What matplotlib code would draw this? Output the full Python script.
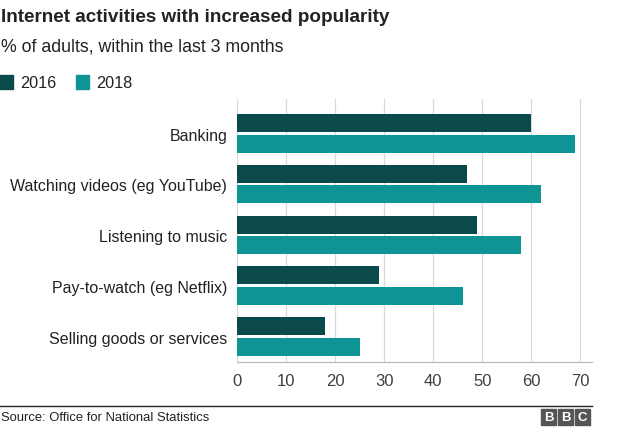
import matplotlib
matplotlib.use("Agg")
import matplotlib.pyplot as plt
import numpy as np
from matplotlib.patches import Rectangle

plt.rcParams['font.family'] = ['Liberation Sans', 'DejaVu Sans']

categories = ["Banking", "Watching videos (eg YouTube)", "Listening to music",
              "Pay-to-watch (eg Netflix)", "Selling goods or services"]
values_2016 = [60, 47, 49, 29, 18]
values_2018 = [69, 62, 58, 46, 25]
series_labels = ["2016", "2018"]
xticks = [0, 10, 20, 30, 40, 50, 60, 70]

c16 = "#0b4a4b"
c18 = "#0e9494"

W, H = 624, 431
fig = plt.figure(figsize=(W/100, H/100), dpi=100)
ax = fig.add_axes([237/W, 1-363/H, (592-237)/W, (363-100)/H])

y = np.arange(len(categories))
h = 0.355
ax.barh(y - 0.205, values_2016, height=h, color=c16, zorder=3)
ax.barh(y + 0.197, values_2018, height=h, color=c18, zorder=3)
ax.set_ylim(4.5, -0.68)
ax.set_xlim(0, 72.4)
ax.set_xticks(xticks)
ax.set_xticklabels([str(t) for t in xticks], fontsize=12, color="#404040")
ax.set_yticks(y)
ax.set_yticklabels(categories, fontsize=11.5, color="#222222")
ax.tick_params(axis='y', length=0, pad=7)
ax.tick_params(axis='x', length=0, pad=8)
ax.grid(axis='x', color="#d9d9d9", linewidth=0.9, zorder=0)
for s in ['top', 'right', 'left']:
    ax.spines[s].set_visible(False)
ax.spines['bottom'].set_color("#bbbbbb")
ax.spines['bottom'].set_linewidth(0.9)

fig.text(1/W, 1-17/H, "Internet activities with increased popularity", fontsize=13.6,
         fontweight='bold', color="#222222", va='center', ha='left')
fig.text(1/W, 1-47/H, "% of adults, within the last 3 months", fontsize=12.8,
         color="#222222", va='center', ha='left')

# legend
fig.patches.append(Rectangle((0/W, 1-90/H), 13/W, 14/H, color=c16, transform=fig.transFigure))
fig.text(20/W, 1-83/H, series_labels[0], fontsize=11.7, color="#222222", va='center')
fig.patches.append(Rectangle((76/W, 1-90/H), 13/W, 14/H, color=c18, transform=fig.transFigure))
fig.text(96/W, 1-83/H, series_labels[1], fontsize=11.7, color="#222222", va='center')

# source line
fig.add_artist(plt.Line2D([0, 592/W], [1-407/H, 1-407/H], color="#222222", linewidth=1.0,
                          transform=fig.transFigure))
fig.text(1/W, 1-418/H, "Source: Office for National Statistics", fontsize=9.4,
         color="#222222", va='center', ha='left')

# BBC logo
for i, letter in enumerate("BBC"):
    x0 = 541 + i*17
    fig.patches.append(Rectangle((x0/W, 1-426/H), 15/W, 16/H, color="#555555",
                                 transform=fig.transFigure))
    fig.text((x0+7.5)/W, 1-418/H, letter, fontsize=9.5, fontweight='bold', color="white",
             ha='center', va='center')

fig.savefig("out.png", dpi=100)
